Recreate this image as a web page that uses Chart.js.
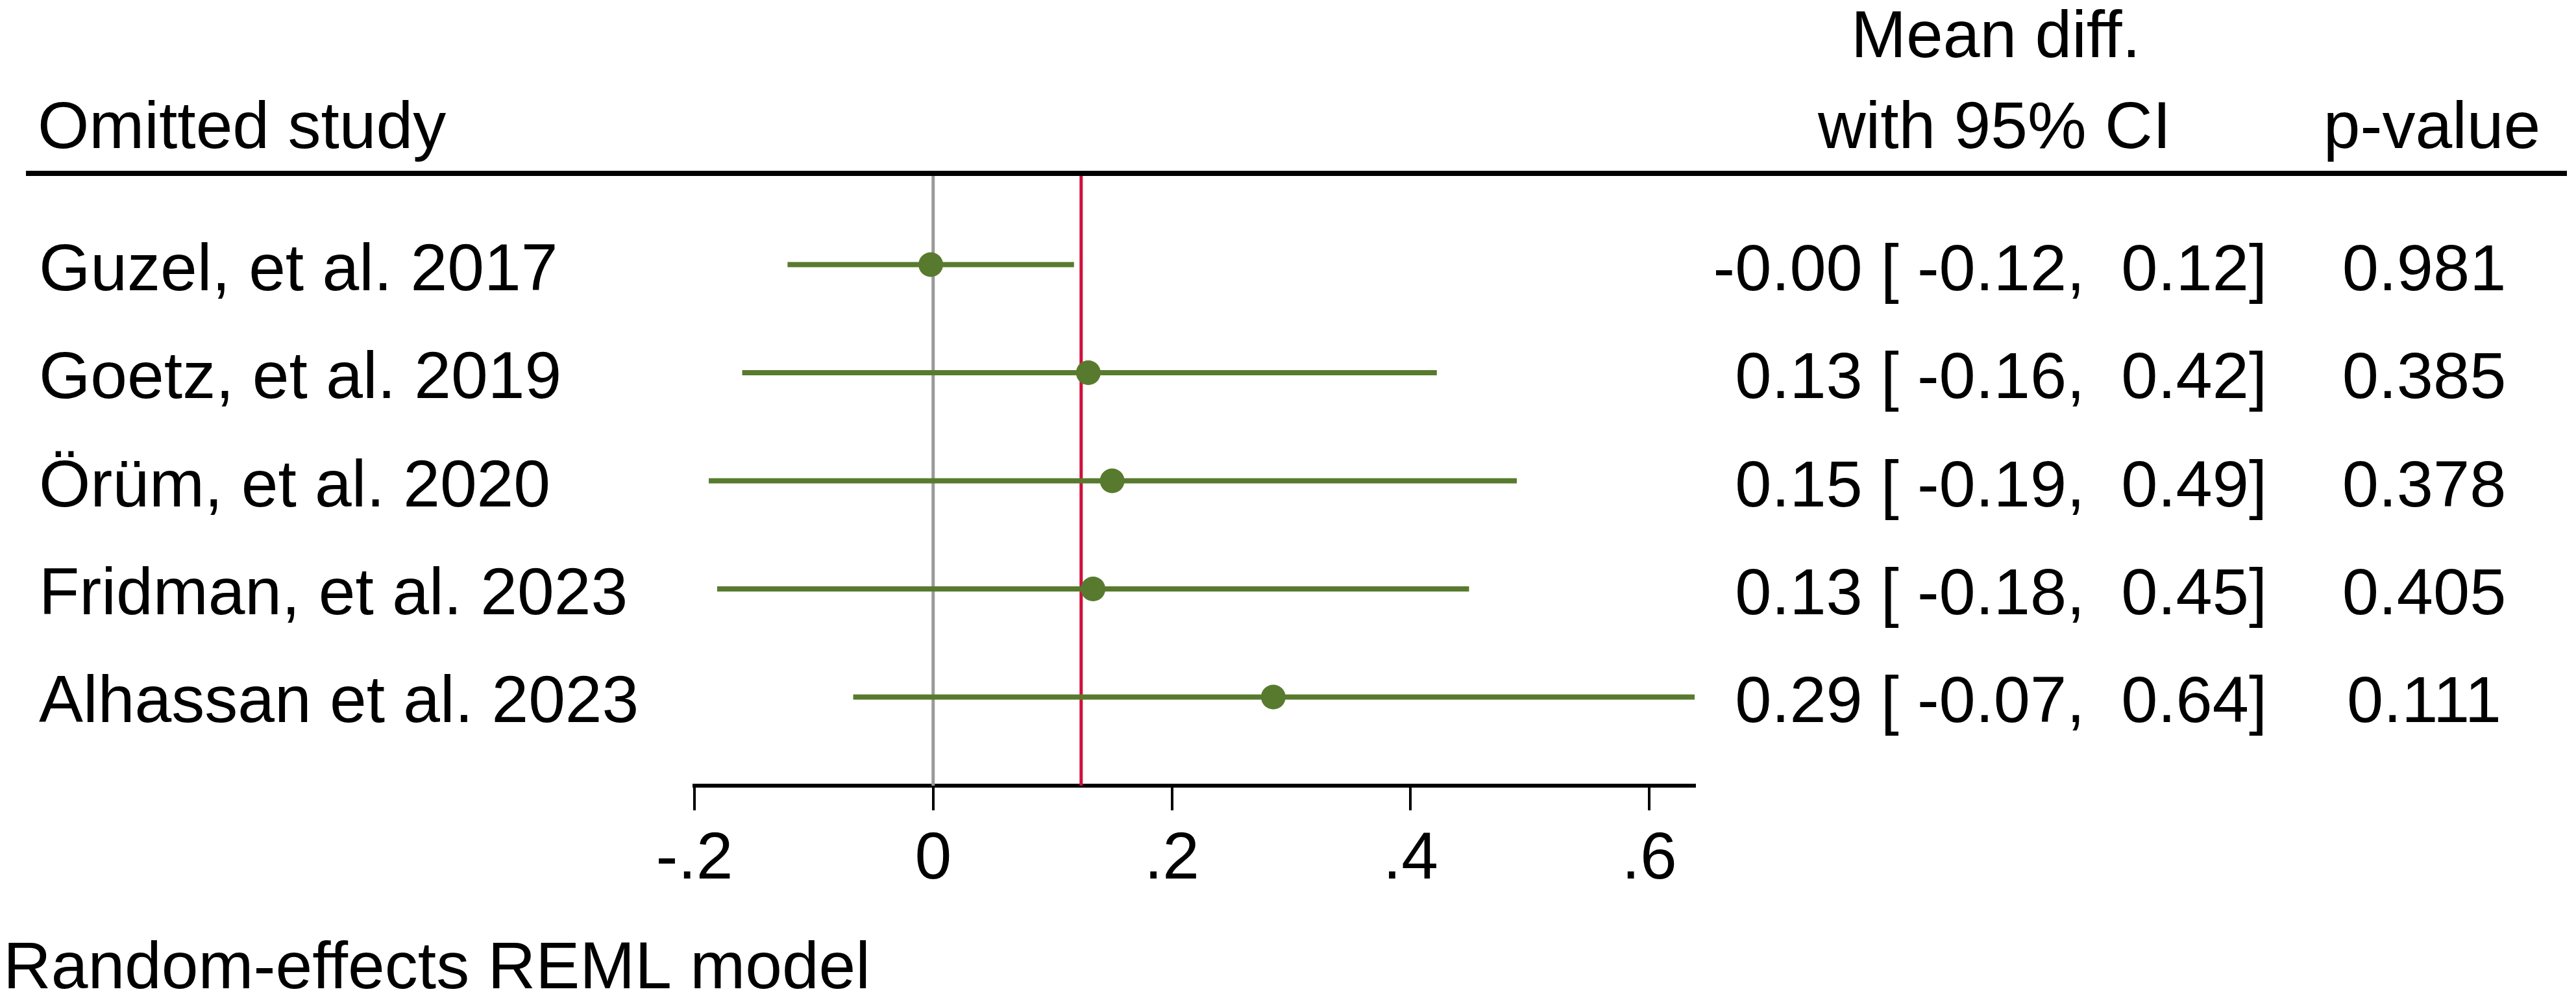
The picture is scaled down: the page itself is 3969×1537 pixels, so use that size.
<!DOCTYPE html>
<html>
<head>
<meta charset="utf-8">
<script src="https://cdn.jsdelivr.net/npm/chart.js@4.4.1/dist/chart.umd.min.js"></script>
<style>
  html, body { margin: 0; padding: 0; background: #ffffff; overflow: hidden; }
  canvas { display: block; }
</style>
</head>
<body>
<canvas id="c" width="3969" height="1537"></canvas>
<script>
// ---- data ----
const studies = ['Guzel, et al. 2017', 'Goetz, et al. 2019', '\u00D6r\u00FCm, et al. 2020', 'Fridman, et al. 2023', 'Alhassan et al. 2023'];
const effects = [-0.002, 0.13, 0.15, 0.134, 0.285];
const ciLow = [-0.122, -0.16, -0.188, -0.181, -0.067];
const ciHigh = [0.118, 0.422, 0.489, 0.449, 0.638];
const effectLabels = ['-0.00', '0.13', '0.15', '0.13', '0.29'];
const ciLowLabels = ['-0.12', '-0.16', '-0.19', '-0.18', '-0.07'];
const ciHighLabels = ['0.12', '0.42', '0.49', '0.45', '0.64'];
const pValues = ['0.981', '0.385', '0.378', '0.405', '0.111'];
const overallEffect = 0.124;
const nullEffect = 0;
const tickValues = [-0.2, 0, 0.2, 0.4, 0.6];
const tickLabels = ['-.2', '0', '.2', '.4', '.6'];
const headerLeft = 'Omitted study';
const headerMid = ['Mean diff.', 'with 95% CI'];
const headerRight = 'p-value';
const footNote = 'Random-effects REML model';

// ---- styling / layout ----
const GREEN = '#587a2e';
const RED = '#d0103c';
const GREY = '#9a9a9a';
const FONT = '"Liberation Sans", Arial, Helvetica, sans-serif';
const FS = 102;
const FS_NUM = 101;
const Y_MIN = 0.18, Y_MAX = 5.82;

const rowIdx = studies.map((_, i) => i + 1);

const ciDatasets = studies.map((s, i) => ({
  type: 'line',
  label: s + ' CI',
  data: [{ x: ciLow[i], y: rowIdx[i] }, { x: ciHigh[i], y: rowIdx[i] }],
  borderColor: GREEN,
  borderWidth: 8,
  pointRadius: 0,
  borderCapStyle: 'butt',
  order: 1
}));

const textPlugin = {
  id: 'forestText',
  afterDraw(chart) {
    const ctx = chart.ctx;
    const ys = chart.scales.y;
    ctx.save();
    ctx.fillStyle = '#000';
    ctx.font = FS + 'px ' + FONT;
    ctx.textBaseline = 'alphabetic';
    // headers
    ctx.textAlign = 'left';
    ctx.fillText(headerLeft, 58, 228);
    ctx.textAlign = 'center';
    ctx.fillText(headerMid[0], 3075, 88);
    ctx.fillText(headerMid[1], 3073, 228);
    ctx.fillText(headerRight, 3747, 228);
    // top rule
    ctx.strokeStyle = '#000';
    ctx.lineWidth = 8;
    ctx.beginPath();
    ctx.moveTo(40, 267);
    ctx.lineTo(3955, 267);
    ctx.stroke();
    // rows
    studies.forEach((s, i) => {
      const y = ys.getPixelForValue(rowIdx[i]) + 39;
      ctx.font = FS + 'px ' + FONT;
      ctx.textAlign = 'left';
      ctx.fillText(s, 60, y);
      ctx.font = FS_NUM + 'px ' + FONT;
      ctx.textAlign = 'right';
      ctx.fillText(effectLabels[i] + ' [ ' + ciLowLabels[i] + ',  ' + ciHighLabels[i] + ']', 3493, y);
      ctx.textAlign = 'center';
      ctx.fillText(pValues[i], 3735, y);
    });
    // footnote
    ctx.font = FS + 'px ' + FONT;
    ctx.textAlign = 'left';
    ctx.fillText(footNote, 5, 1522);
    ctx.restore();
  }
};

new Chart(document.getElementById('c'), {
  type: 'scatter',
  data: {
    datasets: [
      {
        type: 'scatter',
        label: 'Estimate',
        data: effects.map((v, i) => ({ x: v, y: rowIdx[i] })),
        backgroundColor: GREEN,
        borderColor: GREEN,
        borderWidth: 0,
        pointRadius: 19,
        order: 0
      },
      ...ciDatasets,
      {
        type: 'line',
        label: 'Overall',
        data: [{ x: overallEffect, y: Y_MIN }, { x: overallEffect, y: Y_MAX }],
        borderColor: RED,
        borderWidth: 5,
        pointRadius: 0,
        order: 2
      },
      {
        type: 'line',
        label: 'No effect',
        data: [{ x: nullEffect, y: Y_MIN }, { x: nullEffect, y: Y_MAX }],
        borderColor: GREY,
        borderWidth: 5,
        pointRadius: 0,
        order: 3
      }
    ]
  },
  options: {
    responsive: false,
    animation: false,
    devicePixelRatio: 1,
    layout: { padding: { left: 1070, right: 1358, top: 271, bottom: 0 } },
    plugins: { legend: { display: false }, tooltip: { enabled: false } },
    scales: {
      x: {
        type: 'linear',
        min: tickValues[0],
        max: ciHigh[ciHigh.length - 1],
        afterBuildTicks(axis) { axis.ticks = tickValues.map(v => ({ value: v })); },
        afterFit(axis) { axis.height = 327; },
        border: { display: true, width: 6, color: '#000' },
        grid: { display: true, drawOnChartArea: false, drawTicks: true, tickLength: 38, lineWidth: 4, color: '#000' },
        ticks: {
          autoSkip: false,
          maxRotation: 0,
          padding: 16,
          color: '#000',
          font: { family: FONT, size: FS },
          callback(value) {
            const k = tickValues.findIndex(t => Math.abs(t - value) < 1e-9);
            return k >= 0 ? tickLabels[k] : '';
          }
        }
      },
      y: {
        type: 'linear',
        display: false,
        reverse: true,
        min: Y_MIN,
        max: Y_MAX
      }
    }
  },
  plugins: [textPlugin]
});
</script>
</body>
</html>
